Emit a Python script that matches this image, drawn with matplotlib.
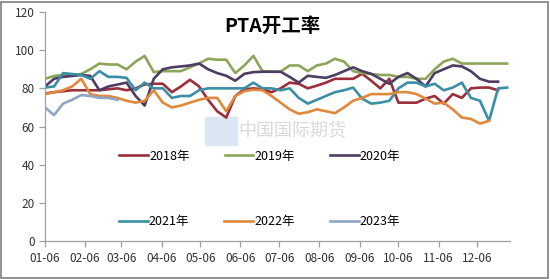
import matplotlib
matplotlib.use('Agg')
import matplotlib.pyplot as plt
import matplotlib.dates as mdates
from matplotlib.patches import Rectangle
import pandas as pd

plt.rcParams['font.family'] = ['Noto Sans CJK SC', 'DejaVu Sans']

# weekly PTA operating rate (%), one row per year, starting 01-06
weeks = pd.date_range('2023-01-06', periods=52, freq='7D')

y2018 = [77.3, 78, 78.5, 79, 79, 79, 79, 79.5, 80, 79, 80, 82, 82.4, 82.4, 78,
         81, 84.5, 81, 74, 68, 64.7, 76, 79.5, 80, 79.5, 78, 80, 83, 82.4, 80,
         81.4, 83, 85, 85, 85, 87.6, 84, 80, 85, 72.5, 72.5, 72.5, 74.6, 76,
         72, 77, 75, 80, 80.4, 80.4, 79]
y2019 = [85, 86.5, 87, 87, 87.5, 90, 93, 92.5, 92.5, 90, 94, 97, 88.5, 89, 89,
         89, 91, 93, 95.5, 95, 95, 88, 92, 97, 89, 88.7, 88.7, 92, 92, 89, 92,
         93, 95.5, 94, 89, 88, 87.5, 87, 87, 86, 86, 85, 85, 90, 94, 95.5, 93,
         93, 93, 93, 93, 93]
y2020 = [81, 85, 86, 86.5, 87, 86.5, 79, 81, 82, 83, 76, 71, 85, 90, 91, 91.5,
         92, 93, 90, 88, 86.6, 84, 87.6, 88.5, 88.7, 88.7, 88.7, 86, 83, 86.6,
         86, 85.5, 87, 89, 91, 89, 87.6, 85, 82.4, 86, 88, 85, 81, 88, 90, 92,
         91.5, 89, 85, 83.5, 83.5]
y2021 = [80.4, 81, 88, 87.5, 87, 85, 89, 86, 86, 85.5, 79, 83, 80, 80, 75, 76,
         76, 79, 80, 80, 80, 80, 80, 83, 80, 80, 79, 80, 75, 72, 74, 76, 78, 79,
         80.4, 74.6, 72, 72.5, 73.5, 80, 83, 83, 81, 82.4, 79, 80.4, 83, 75,
         73.5, 63, 80, 80.4]
y2022 = [77, 78, 79, 81, 85, 77, 76, 76, 75, 73.5, 72.5, 73.5, 79, 72.5, 70, 71,
         72.5, 74, 75, 75, 68, 76, 78.5, 79.3, 79, 76, 72.5, 69, 66.7, 67.5, 69,
         68, 67, 70, 73.5, 75, 77, 77, 77, 78, 78, 77, 74.6, 72, 72.5, 69, 64.7,
         64, 61.5, 63]
y2023 = [70, 66, 72, 74, 76.5, 76, 75, 75, 74]

series = [('2018年', y2018, '#9a2f3b'),
          ('2019年', y2019, '#8ca55a'),
          ('2020年', y2020, '#4d3d63'),
          ('2021年', y2021, '#3a8ea6'),
          ('2022年', y2022, '#e0883c'),
          ('2023年', y2023, '#8ea6c0')]

tick_dates = pd.date_range('2023-01-01', periods=12, freq='MS') + pd.Timedelta(days=5)

fig = plt.figure(figsize=(5.5, 2.79), dpi=100)
fig.patches.append(Rectangle((0.002, 0.004), 0.995, 0.99, transform=fig.transFigure,
                             fill=False, edgecolor='#7f7f7f', linewidth=1.2))
ax = fig.add_axes([0.0818, 0.136, 0.845, 0.821])

lines = []
for name, vals, col in series:
    l, = ax.plot(weeks[:len(vals)], vals, color=col, linewidth=1.9, label=name)
    lines.append(l)

ax.set_ylim(0, 120)
ax.set_yticks(range(0, 121, 20))
ax.set_xlim(pd.Timestamp('2023-01-06'), pd.Timestamp('2023-12-31'))
ax.set_xticks(tick_dates)
ax.xaxis.set_major_formatter(mdates.DateFormatter('%m-%d'))

for s in ['top', 'right']:
    ax.spines[s].set_visible(False)
for s in ['left', 'bottom']:
    ax.spines[s].set_color('#a0a0a0')
    ax.spines[s].set_linewidth(0.9)
ax.tick_params(colors='#a0a0a0', labelcolor='#333333', labelsize=8.5, length=4,
               width=0.9)
ax.tick_params(axis='x', pad=4)

ax.set_title('PTA开工率', fontsize=14, fontweight='bold', y=0.875, x=0.49)

# watermark
ax.add_patch(Rectangle((0.345, 0.42), 0.068, 0.12, transform=ax.transAxes,
                       color='#dbe6f2', zorder=0.5))
ax.text(0.532, 0.477, '中国国际期货', transform=ax.transAxes, fontsize=13,
        color='#d9d9d9', ha='center', va='center', zorder=0.6)

leg1 = ax.legend(handles=lines[:3], loc='center', bbox_to_anchor=(0.462, 0.37),
                 ncol=3, frameon=False, fontsize=9, handlelength=2.3,
                 handletextpad=0.1, columnspacing=2.8)
ax.add_artist(leg1)
ax.legend(handles=lines[3:], loc='center', bbox_to_anchor=(0.462, 0.085),
          ncol=3, frameon=False, fontsize=9, handlelength=2.3,
          handletextpad=0.1, columnspacing=2.8)

fig.savefig('out.png', dpi=100)
